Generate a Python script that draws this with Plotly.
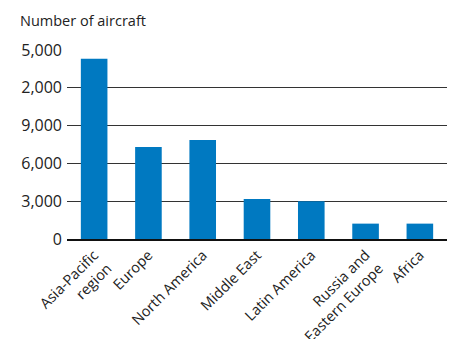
import plotly.graph_objects as go

regions = ["Asia-Pacific<br>region", "Europe", "North America", "Middle East",
           "Latin America", "Russia and<br>Eastern Europe", "Africa"]
aircraft = [14300, 7300, 7850, 3180, 2990, 1220, 1220]
tick_vals = [0, 3000, 6000, 9000, 12000, 15000]
tick_text = ["0", "3,000", "6,000", "9,000", "2,000", "5,000"]

font_family = "Open Sans, Noto Sans, sans-serif"

fig = go.Figure(go.Bar(
    x=regions, y=aircraft, marker_color="#0079C1", marker_line_width=0, width=0.49,
))

fig.update_layout(
    width=454, height=339,
    margin=dict(l=67, r=7, t=50, b=100, autoexpand=False),
    paper_bgcolor="white", plot_bgcolor="white",
    font=dict(family=font_family, size=14, color="#222"),
    showlegend=False,
    bargap=0.51,
)
fig.update_yaxes(
    range=[0, 15000], tickvals=tick_vals, ticktext=tick_text,
    showgrid=True, gridcolor="#333", gridwidth=1, zeroline=False,
    showline=False, ticks="", ticklabelstandoff=4, automargin=False,
    tickfont=dict(size=16, color="#222"),
)
fig.update_xaxes(
    showline=True, linecolor="#111", linewidth=2, ticks="", automargin=False,
    tickangle=-45, tickfont=dict(size=14.5, color="#222"),
)
fig.add_annotation(
    text="Number of aircraft", xref="paper", yref="paper",
    x=-49/380, y=1 + 29/189, xanchor="left", yanchor="middle",
    showarrow=False, font=dict(size=14.5, color="#222"),
)

fig.write_html("out.html")
